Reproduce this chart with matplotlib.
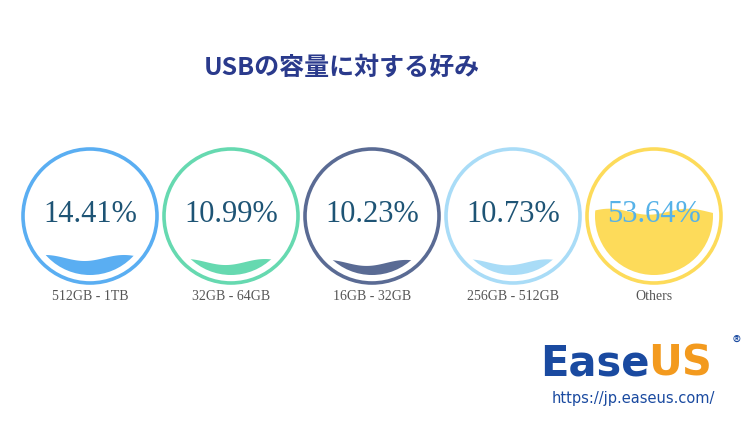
import numpy as np
import matplotlib
matplotlib.use("Agg")
import matplotlib.pyplot as plt
from matplotlib.patches import Circle, Polygon

plt.rcParams['font.family'] = ['Noto Sans CJK JP', 'DejaVu Sans']

labels = ["512GB - 1TB", "32GB - 64GB", "16GB - 32GB", "256GB - 512GB", "Others"]
values = [14.41, 10.99, 10.23, 10.73, 53.64]
colors = ["#5aaef2", "#66d9b0", "#5a6b94", "#a9dcf7", "#fddb5a"]
text_colors = ["#1e5475", "#1e5475", "#1e5475", "#1e5475", "#56b2e8"]

W, H = 751, 422
fig = plt.figure(figsize=(W/100, H/100), dpi=100)
ax = fig.add_axes([0, 0, 1, 1])
ax.set_xlim(0, W); ax.set_ylim(H, 0); ax.axis('off')

cx0, dx, cy = 90, 141, 216
R, r = 67, 59
for i, (lab, v, c, tc) in enumerate(zip(labels, values, colors, text_colors)):
    cx = cx0 + dx * i
    ax.add_patch(Circle((cx, cy), R, fill=False, ec=c, lw=2.6))
    level = cy + r - 2 * r * v / 100
    xs = np.linspace(cx - r, cx + r, 200)
    ys = level + 3 * np.sin((xs - cx) / (2 * r) * 1.5 * 2 * np.pi + 2.0)
    poly = Polygon(np.vstack([np.column_stack([xs, ys]), [[cx + r, cy + r + 5], [cx - r, cy + r + 5]]]),
                   closed=True, fc=c, ec='none')
    ax.add_patch(poly)
    poly.set_clip_path(Circle((cx, cy), r, transform=ax.transData))
    ax.text(cx, cy - 2, f"{v:.2f}%", ha='center', va='center', fontsize=22, color=tc, family='Liberation Serif')
    ax.text(cx, 297, lab, ha='center', va='center', fontsize=10, color='#555555', family='Liberation Serif')

ax.text(342, 68, "USBの容量に対する好み", ha='center', va='center', fontsize=18, color='#2a3a8c', fontweight='bold')
t = ax.text(540, 364, "Ease", ha='left', va='center', fontsize=30, color='#1a4aa0', fontweight='heavy', family='DejaVu Sans')
fig.canvas.draw()
bb = t.get_window_extent().transformed(ax.transData.inverted())
ax.text(bb.x1 - 1, 364, "US", ha='left', va='center', fontsize=30, color='#f39a1e', fontweight='heavy', family='DejaVu Sans')
ax.text(733, 343, "®", ha='left', va='center', fontsize=12, color='#1a4aa0')
ax.text(633, 398, "https://jp.easeus.com/", ha='center', va='center', fontsize=10.5, color='#1a4aa0', family='DejaVu Sans')

fig.savefig("out.png", dpi=100)
